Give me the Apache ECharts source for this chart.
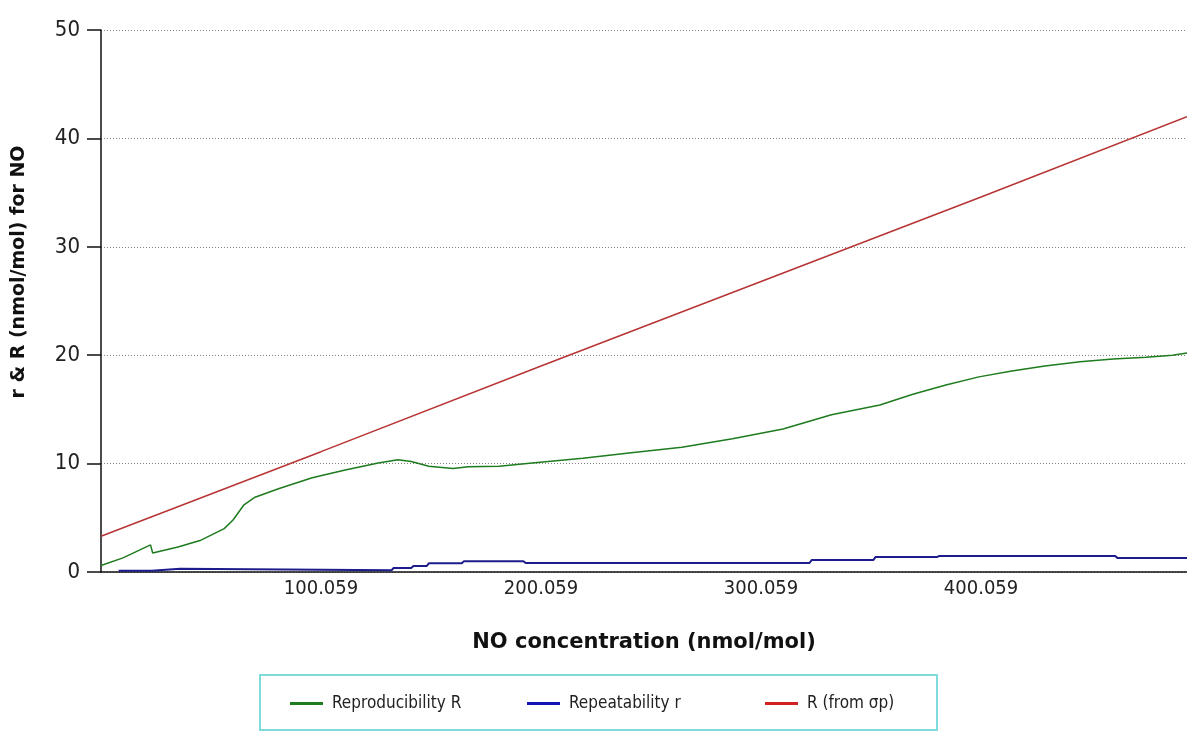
<!DOCTYPE html>
<html>
<head>
<meta charset="utf-8">
<script src="https://cdn.jsdelivr.net/npm/echarts@6/dist/echarts.min.js"></script>
<style>
html,body{margin:0;padding:0;background:#fff;}
#chart{width:1187px;height:731px;}
</style>
</head>
<body>
<div id="chart"></div>
<script>
// ---- data ----
const seriesNames = ['Reproducibility R', 'Repeatability r', 'R (from σp)'];

const reproX = [0, 10, 22.5, 23.5, 35, 45, 56, 60, 65, 70, 81, 96, 111, 126, 135, 141, 149, 160, 167, 181, 196, 219, 241, 264, 287, 310, 332, 354, 369, 384, 399, 414, 429, 445, 460, 475, 487, 493.6];
const reproY = [0.6, 1.3, 2.5, 1.75, 2.3, 2.9, 4.0, 4.8, 6.2, 6.9, 7.7, 8.7, 9.4, 10.05, 10.35, 10.2, 9.75, 9.55, 9.7, 9.75, 10.05, 10.5, 11.0, 11.5, 12.3, 13.2, 14.5, 15.4, 16.4, 17.25, 18.0, 18.55, 19.0, 19.4, 19.65, 19.8, 20.0, 20.2];

const repeatX = [8, 23, 23.5, 36, 36.5, 132, 133, 141, 142, 148, 149, 164, 165, 192, 193, 322, 323, 351, 352, 380, 381, 461, 462, 493.6];
const repeatY = [0.12, 0.12, 0.3, 0.3, 0.12, 0.15, 0.37, 0.37, 0.55, 0.55, 0.8, 0.8, 1.0, 1.0, 0.83, 0.83, 1.1, 1.1, 1.38, 1.38, 1.48, 1.48, 1.29, 1.29];

const sigmaX = [0, 100, 200, 300, 400, 493.6];
const sigmaY = [3.3, 11.1, 19.0, 26.8, 34.6, 42.0];

const xTickValues = [100, 200, 300, 400];
const xTickLabels = ['100.059', '200.059', '300.059', '400.059'];
const yTickLabels = ['0', '10', '20', '30', '40', '50'];

const xTitle = 'NO concentration (nmol/mol)';
const yTitle = 'r & R (nmol/mol) for NO';

// ---- build ----
const pairs = (xs, ys) => xs.map((x, i) => [x, ys[i]]);
const colors = ['#1e7b1e', '#1c1c8c', '#b83434'];
const legendColors = ['#1e7b1e', '#1414b4', '#d02020'];
const narrow = '"DejaVu Sans Condensed", "Liberation Sans Narrow", sans-serif';

const chart = echarts.init(document.getElementById('chart'), null, {renderer: 'canvas'});

const legendLefts = [285, 522, 760];

chart.setOption({
  animation: false,
  backgroundColor: '#fff',
  grid: {left: 101, right: 0, top: 30, bottom: 159, containLabel: false},
  graphic: [{
    type: 'rect',
    shape: {x: 260, y: 675, width: 677, height: 55},
    style: {fill: 'none', stroke: '#7fdcdc', lineWidth: 2},
    z: 0
  }],
  legend: seriesNames.map((n, i) => ({
    data: [{name: n, itemStyle: {color: legendColors[i]}}],
    left: legendLefts[i],
    top: 690,
    icon: 'rect',
    itemWidth: 33,
    itemHeight: 3,
    itemGap: 0,
    textStyle: {fontFamily: narrow, fontSize: 17, color: '#222', padding: [0, 0, 0, 4]}
  })),
  xAxis: {
    type: 'value',
    min: 0,
    max: 493.6,
    interval: 100,
    name: xTitle,
    nameLocation: 'middle',
    nameGap: 60,
    nameTextStyle: {fontFamily: 'DejaVu Sans', fontWeight: 'bold', fontSize: 21, color: '#111'},
    axisLine: {show: true, onZero: false, lineStyle: {color: '#111', width: 1.5}},
    axisTick: {show: false},
    splitLine: {show: false},
    axisLabel: {
      showMinLabel: false,
      showMaxLabel: false,
      margin: 7,
      fontFamily: narrow,
      fontSize: 20,
      color: '#222',
      formatter: v => {
        const k = xTickValues.indexOf(Math.round(v));
        return k >= 0 ? xTickLabels[k] : '';
      }
    }
  },
  yAxis: {
    type: 'value',
    min: 0,
    max: 50,
    interval: 10,
    name: yTitle,
    nameLocation: 'middle',
    nameGap: 72,
    nameRotate: 90,
    nameTextStyle: {fontFamily: 'DejaVu Sans', fontWeight: 'bold', fontSize: 19, color: '#111', padding: [0, 0, 0, 58]},
    axisLine: {show: true, lineStyle: {color: '#111', width: 1.5}},
    axisTick: {show: true, inside: false, length: 14, lineStyle: {color: '#111', width: 1.5}},
    splitLine: {show: true, lineStyle: {color: '#808080', width: 1, type: [1, 2]}},
    axisLabel: {
      margin: 21,
      fontFamily: narrow,
      fontSize: 22,
      color: '#222',
      formatter: v => yTickLabels[Math.round(v / 10)]
    }
  },
  series: [
    {name: seriesNames[0], type: 'line', data: pairs(reproX, reproY), showSymbol: false, smooth: false,
     lineStyle: {color: colors[0], width: 1.5}, itemStyle: {color: colors[0]}, z: 3},
    {name: seriesNames[1], type: 'line', data: pairs(repeatX, repeatY), showSymbol: false,
     lineStyle: {color: colors[1], width: 2}, itemStyle: {color: colors[1]}, z: 4},
    {name: seriesNames[2], type: 'line', data: pairs(sigmaX, sigmaY), showSymbol: false,
     lineStyle: {color: colors[2], width: 1.5}, itemStyle: {color: colors[2]}, z: 2}
  ]
});
</script>
</body>
</html>
